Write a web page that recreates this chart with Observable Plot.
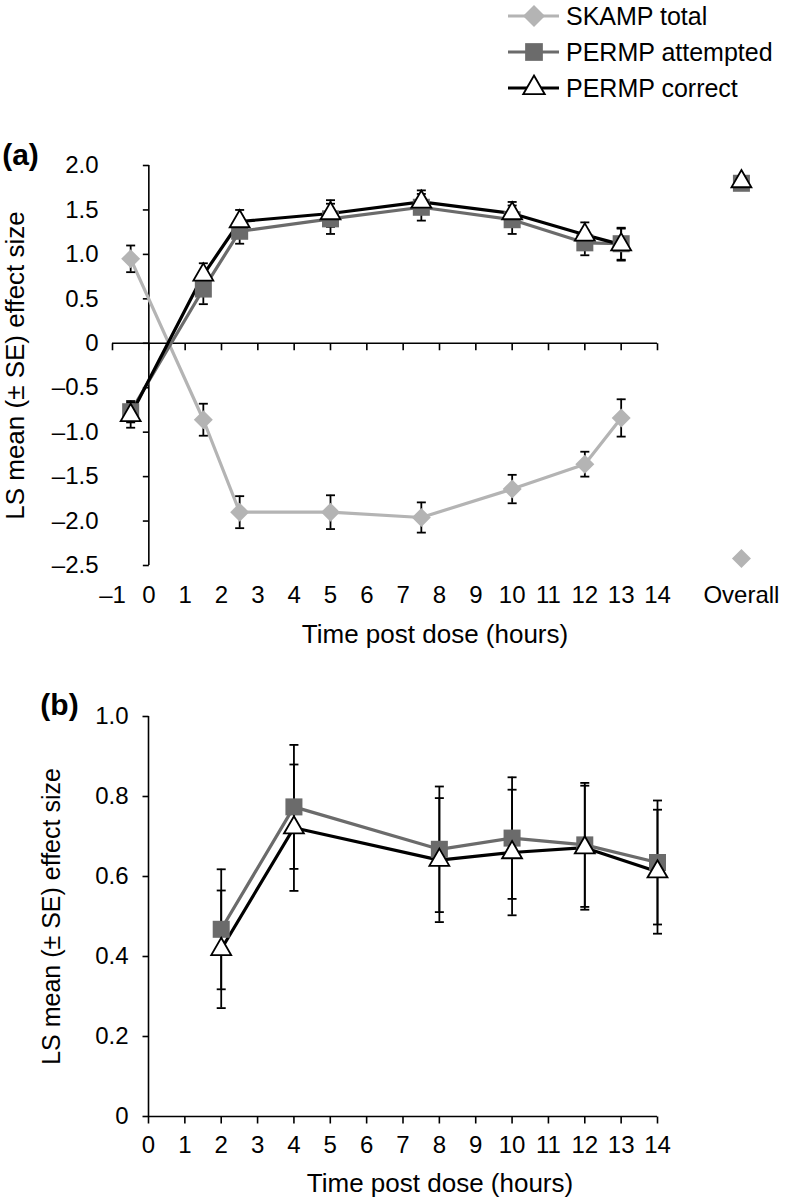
<!DOCTYPE html>
<html>
<head>
<meta charset="utf-8">
<script src="https://cdn.jsdelivr.net/npm/d3@7"></script>
<script src="https://cdn.jsdelivr.net/npm/@observablehq/plot@0.6"></script>
<style>
  body { margin: 0; background: #fff; }
  #root { position: relative; width: 786px; height: 1201px; overflow: hidden; background: #fff;
          font-family: "Liberation Sans", Arial, sans-serif; }
  #legend { position: absolute; left: 0; top: 0; }
  #panelA { position: absolute; left: 0; top: 105px; }
  #panelB { position: absolute; left: 0; top: 650px; }
</style>
</head>
<body>
<div id="root">
  <div id="legend"></div>
  <div id="panelA"></div>
  <div id="panelB"></div>
</div>
<script>
// ---------------- DATA ----------------
const seriesNames = ["SKAMP total", "PERMP attempted", "PERMP correct"];

// Panel (a): time post dose (hours), –0.5 = predose
const timesA = [-0.5, 1.5, 2.5, 5, 7.5, 10, 12, 13];
const skampTotalA   = [0.95, -0.86, -1.90, -1.90, -1.96, -1.64, -1.36, -0.84];
const skampSEA      = [0.15, 0.18, 0.18, 0.19, 0.17, 0.16, 0.14, 0.21];
const permpAttA     = [-0.77, 0.61, 1.26, 1.40, 1.53, 1.39, 1.13, 1.12];
const permpAttSEA   = [0.12, 0.17, 0.14, 0.17, 0.15, 0.16, 0.14, 0.18];
const permpCorA     = [-0.81, 0.77, 1.37, 1.46, 1.59, 1.46, 1.22, 1.11];
const permpCorSEA   = [0.14, 0.13, 0.13, 0.15, 0.13, 0.13, 0.14, 0.18];
// Overall values (panel a)
const overallLabel = "Overall";
const overallValues = [-2.42, 1.80, 1.82];   // SKAMP total, PERMP attempted, PERMP correct

const xTicksA = [-1, 0, 1, 2, 3, 4, 5, 6, 7, 8, 9, 10, 11, 12, 13, 14];
const yTicksA = [-2.5, -2.0, -1.5, -1.0, -0.5, 0, 0.5, 1.0, 1.5, 2.0];

// Panel (b)
const timesB = [2, 4, 8, 10, 12, 14];
const permpAttB   = [0.468, 0.774, 0.668, 0.696, 0.679, 0.635];
const permpAttSEB = [0.150, 0.155, 0.157, 0.152, 0.155, 0.155];
const permpCorB   = [0.418, 0.722, 0.641, 0.660, 0.672, 0.612];
const permpCorSEB = [0.147, 0.158, 0.155, 0.157, 0.155, 0.155];

const xTicksB = [0, 1, 2, 3, 4, 5, 6, 7, 8, 9, 10, 11, 12, 13, 14];
const yTicksB = [0, 0.2, 0.4, 0.6, 0.8, 1.0];

const xTitle = "Time post dose (hours)";
const yTitleA = "LS mean (\u00B1 SE) effect size";
const yTitleB = "LS mean (\u00B1 SE) effect size";

// ---------------- STYLE ----------------
const FONT = '"Liberation Sans", Arial, sans-serif';
const colSkamp = "#b4b4b4";
const colAtt = "#6b6b6b";
const colCor = "#000000";
const overallPos = 16.31; // categorical slot to the right of the time axis

// custom symbols
const symR = size => Math.sqrt(size / Math.PI);
const capSym = { draw(ctx, size) { const r = symR(size); ctx.moveTo(-r, 0); ctx.lineTo(r, 0); } };
const tickDownSym = { draw(ctx, size) { const r = symR(size); ctx.moveTo(0, 0); ctx.lineTo(0, r); } };
const tickLeftSym = { draw(ctx, size) { const r = symR(size); ctx.moveTo(0, 0); ctx.lineTo(-r, 0); } };
const diamondSym = { draw(ctx, size) { const r = symR(size); ctx.moveTo(0, -r); ctx.lineTo(r, 0); ctx.lineTo(0, r); ctx.lineTo(-r, 0); ctx.closePath(); } };

const dash = s => s.replace("-", "\u2013");
const fmtX = d => dash(String(d));
const fmtY = d => d === 0 ? "0" : dash(d.toFixed(1));

const rows = (ts, vs, ses) => ts.map((t, i) => ({ t, v: vs[i], se: ses[i] }));

function errorMarks(data) {
  return [
    Plot.ruleX(data, { x: "t", y1: d => d.v - d.se, y2: d => d.v + d.se, stroke: "black", strokeWidth: 1.8 }),
    Plot.dot(data, { x: "t", y: d => d.v + d.se, symbol: capSym, r: 4.5, stroke: "black", strokeWidth: 1.8, fill: "none" }),
    Plot.dot(data, { x: "t", y: d => d.v - d.se, symbol: capSym, r: 4.5, stroke: "black", strokeWidth: 1.8, fill: "none" })
  ];
}
const markSkamp = (data) => Plot.dot(data, { x: "t", y: "v", symbol: diamondSym, r: 9.5, fill: colSkamp, stroke: "none" });
const markAtt = (data) => Plot.dot(data, { x: "t", y: "v", symbol: "square", r: 9.6, fill: colAtt, stroke: "none" });
const markCor = (data) => Plot.dot(data, { x: "t", y: "v", symbol: "triangle", r: 7.4, fill: "white", stroke: colCor, strokeWidth: 1.8 });

const plotStyle = { fontFamily: FONT, fontSize: "24px", color: "black", background: "transparent", overflow: "visible" };

// ---------------- PANEL A ----------------
const skA = rows(timesA, skampTotalA, skampSEA);
const atA = rows(timesA, permpAttA, permpAttSEA);
const coA = rows(timesA, permpCorA, permpCorSEA);
const ovSk = [{ t: overallPos, v: overallValues[0] }];
const ovAt = [{ t: overallPos, v: overallValues[1] }];
const ovCo = [{ t: overallPos, v: overallValues[2] }];

const panelA = Plot.plot({
  width: 786, height: 545,
  marginTop: 60, marginBottom: 85, marginLeft: 112, marginRight: 129,
  x: { domain: [-1, 14] },
  y: { domain: [-2.5, 2] },
  style: plotStyle,
  marks: [
    Plot.ruleY([0], { x1: -1, x2: 14, stroke: "black", strokeWidth: 1.6 }),
    Plot.ruleX([0], { y1: -2.5, y2: 2, stroke: "black", strokeWidth: 1.6 }),
    Plot.dot(xTicksA, { x: d => d, y: 0, symbol: tickDownSym, r: 7, stroke: "black", strokeWidth: 1.6, fill: "none" }),
    Plot.dot(yTicksA, { x: 0, y: d => d, symbol: tickLeftSym, r: 6, stroke: "black", strokeWidth: 1.6, fill: "none" }),
    Plot.axisX({ ticks: xTicksA, tickSize: 0, tickPadding: 20, tickFormat: fmtX, label: null, fontSize: 24 }),
    Plot.text([overallLabel], { x: overallPos, frameAnchor: "bottom", lineAnchor: "top", dy: 20, fontSize: 24, text: d => d }),
    Plot.axisY({ ticks: yTicksA, tickSize: 0, tickPadding: 14, tickFormat: fmtY, label: null, fontSize: 24 }),
    Plot.text([yTitleA], { frameAnchor: "left", textAnchor: "middle", rotate: -90, dx: -97, fontSize: 26, lineAnchor: "middle", text: d => d }),
    Plot.text([xTitle], { frameAnchor: "bottom", lineAnchor: "middle", dy: 69, dx: 50, fontSize: 26, text: d => d }),
    Plot.text(["(a)"], { frameAnchor: "top-left", textAnchor: "middle", lineAnchor: "middle", dx: -92, dy: -10, fontSize: 30, fontWeight: "bold", text: d => d }),
    Plot.line(skA, { x: "t", y: "v", stroke: colSkamp, strokeWidth: 3.2 }),
    Plot.line(atA, { x: "t", y: "v", stroke: colAtt, strokeWidth: 3.2 }),
    Plot.line(coA, { x: "t", y: "v", stroke: colCor, strokeWidth: 3.2 }),
    ...errorMarks(skA),
    ...errorMarks(atA),
    ...errorMarks(coA),
    markSkamp(skA), markSkamp(ovSk),
    markAtt(atA), markAtt(ovAt),
    markCor(coA), markCor(ovCo)
  ]
});
document.getElementById("panelA").appendChild(panelA);

// ---------------- PANEL B ----------------
const atB = rows(timesB, permpAttB, permpAttSEB);
const coB = rows(timesB, permpCorB, permpCorSEB);

const panelB = Plot.plot({
  width: 786, height: 551,
  marginTop: 66, marginBottom: 85, marginLeft: 148, marginRight: 129,
  x: { domain: [0, 14] },
  y: { domain: [0, 1] },
  style: plotStyle,
  marks: [
    Plot.ruleY([0], { x1: 0, x2: 14, stroke: "black", strokeWidth: 1.6 }),
    Plot.ruleX([0], { y1: 0, y2: 1, stroke: "black", strokeWidth: 1.6 }),
    Plot.dot(xTicksB, { x: d => d, y: 0, symbol: tickDownSym, r: 7, stroke: "black", strokeWidth: 1.6, fill: "none" }),
    Plot.dot(yTicksB, { x: 0, y: d => d, symbol: tickLeftSym, r: 6, stroke: "black", strokeWidth: 1.6, fill: "none" }),
    Plot.axisX({ ticks: xTicksB, tickSize: 0, tickPadding: 19, tickFormat: fmtX, label: null, fontSize: 24 }),
    Plot.axisY({ ticks: yTicksB, tickSize: 0, tickPadding: 20, tickFormat: fmtY, label: null, fontSize: 24 }),
    Plot.text([yTitleB], { frameAnchor: "left", textAnchor: "middle", rotate: -90, dx: -97, fontSize: 25, lineAnchor: "middle", text: d => d }),
    Plot.text([xTitle], { frameAnchor: "bottom", lineAnchor: "middle", dy: 67, dx: 37, fontSize: 26, text: d => d }),
    Plot.text(["(b)"], { frameAnchor: "top-left", textAnchor: "middle", lineAnchor: "middle", dx: -89, dy: -11, fontSize: 30, fontWeight: "bold", text: d => d }),
    Plot.line(atB, { x: "t", y: "v", stroke: colAtt, strokeWidth: 3.2 }),
    Plot.line(coB, { x: "t", y: "v", stroke: colCor, strokeWidth: 3.2 }),
    ...errorMarks(atB),
    ...errorMarks(coB),
    markAtt(atB),
    markCor(coB)
  ]
});
document.getElementById("panelB").appendChild(panelB);

// ---------------- LEGEND ----------------
const legendColors = [colSkamp, colAtt, colCor];
const legendRowY = [16, 52, 88];
const lg = d3.select("#legend").append("svg").attr("width", 786).attr("height", 105)
  .style("font-family", FONT);
seriesNames.forEach((name, i) => {
  const g = lg.append("g").attr("transform", `translate(534,${legendRowY[i]})`);
  g.append("line").attr("x1", -26).attr("x2", 25).attr("stroke", legendColors[i]).attr("stroke-width", 3.2);
  if (i === 0) {
    g.append("path").attr("d", d3.symbol(diamondSym, Math.PI * 11 * 11)()).attr("fill", colSkamp);
  } else if (i === 1) {
    g.append("path").attr("d", d3.symbol(d3.symbolSquare, Math.PI * 10 * 10)()).attr("fill", colAtt);
  } else {
    g.append("path").attr("d", d3.symbol(d3.symbolTriangle, Math.PI * 8 * 8)()).attr("fill", "white")
      .attr("stroke", "black").attr("stroke-width", 1.8);
  }
  lg.append("text").attr("x", 566).attr("y", legendRowY[i]).attr("dy", "0.35em")
    .attr("font-size", 25).attr("fill", "black").text(name);
});
</script>
</body>
</html>
